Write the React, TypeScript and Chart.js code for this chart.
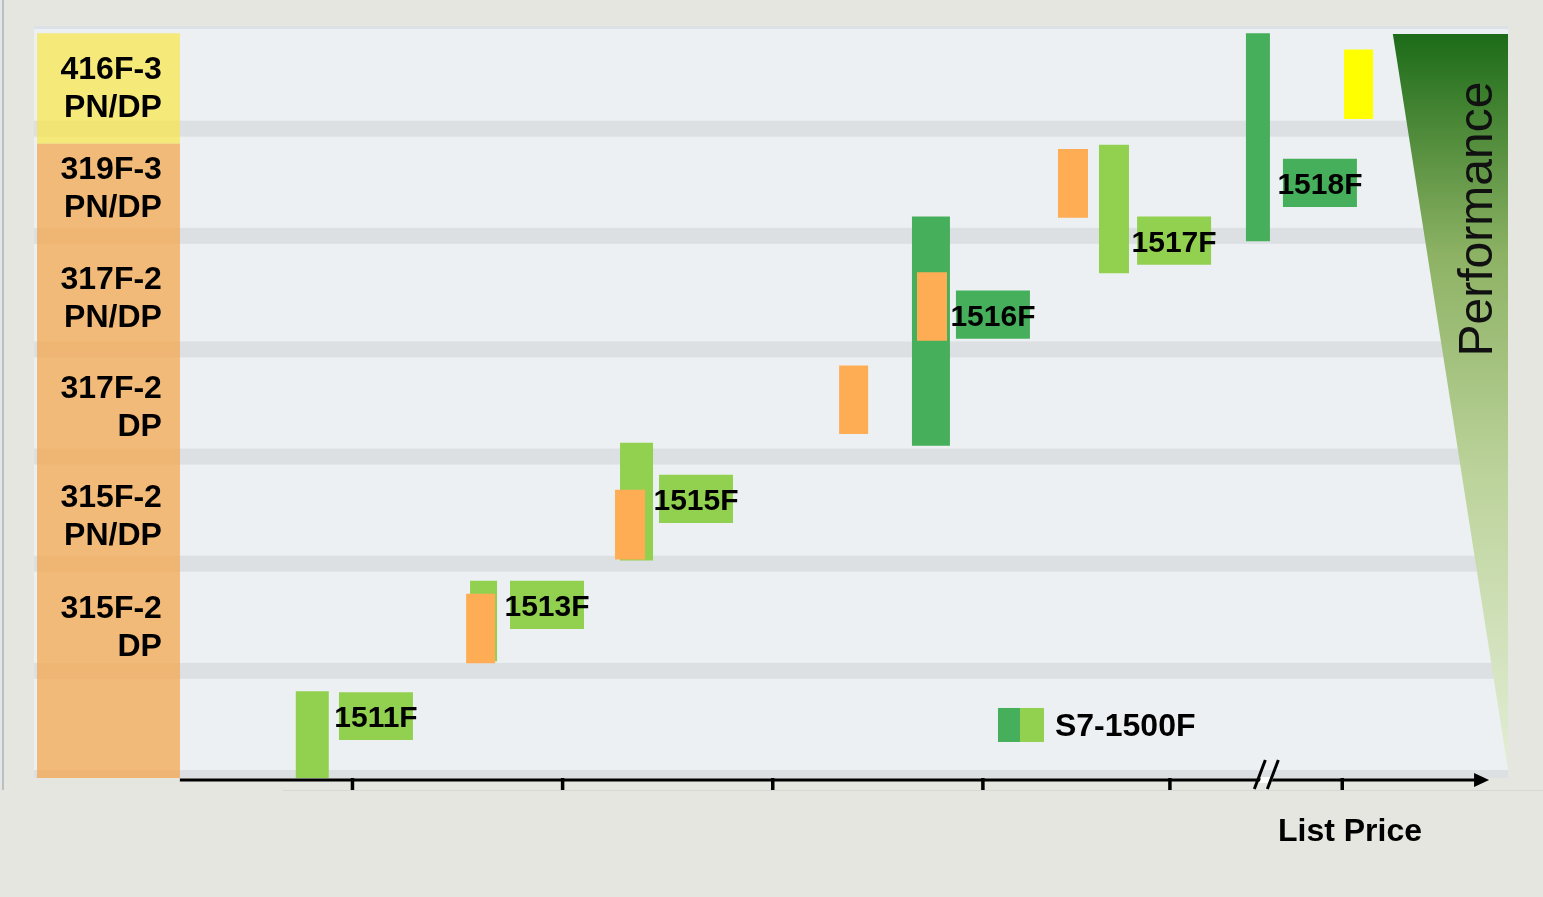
import React, { useEffect, useRef } from 'react';
import { Chart, registerables } from 'chart.js';

Chart.register(...registerables);

const W = 1543;
const H = 897;

// ---- data (x = list price index, y = performance index) ----
const rowBoundaries = [1, 2, 3, 4, 5.06, 6.06];
const rowLabels = [
  ['315F-2', 'DP'],
  ['315F-2', 'PN/DP'],
  ['317F-2', 'DP'],
  ['317F-2', 'PN/DP'],
  ['319F-3', 'PN/DP'],
  ['416F-3', 'PN/DP'],
];
const rowLabelY = [1.42, 2.45, 3.47, 4.49, 5.51, 6.45];
const columnPrice = -0.16;
const columnRight = 0.18;
const orangeColumn = [0, 5.92];
const yellowColumn = [5.92, 6.95];

const s7Names = ['1511F', '1513F', '1515F', '1516F', '1517F', '1518F'];
const s7Price = [0.81, 1.625, 2.353, 3.754, 4.625, 5.31];
const s7Perf = [[0, 0.81], [1.09, 1.84], [2.03, 3.13], [3.1, 5.24], [4.71, 5.91], [5.01, 6.95]];
const s7Width = [33, 27, 33, 38, 30, 24];
const s7Dark = [false, false, false, true, false, true];
const s7NamePrice = [1.113, 1.927, 2.636, 4.049, 4.911, 5.605];
const s7NamePerf = [[0.355, 0.8], [1.39, 1.84], [2.38, 2.83], [4.1, 4.55], [4.79, 5.24], [5.33, 5.78]];

const legacyPrice = [1.611, 2.322, 3.386, 3.759, 4.43, 5.789];
const legacyPerf = [[1.07, 1.72], [2.04, 2.69], [3.21, 3.85], [4.08, 4.72], [5.23, 5.87], [6.15, 6.8]];
const legacyWidth = [29, 30, 29, 30, 30, 29];
const legacyYellow = [false, false, false, false, false, true];

const priceTicks = [1, 2, 3, 4, 4.89, 5.71];
const priceBreak = 5.35;
const axisStart = 0.18;
const axisEnd = 6.41;

const legendLabel = 'S7-1500F';
const legendPrice = 4.073;
const legendPerf = 0.495;
const xTitle = 'List Price';
const xTitlePrice = 5.748;
const perfTitle = 'Performance';

// ---- colors ----
const LIGHT_GREEN = '#92D050';
const DARK_GREEN = '#46AF5B';
const ORANGE = '#FFAD55';
const YELLOW = '#FFFF00';
const BAND = '#DCE0E3';
const FONT = "'Liberation Sans', Arial, sans-serif";

const decor = {
  id: 'decor',
  beforeDraw(chart: any) {
    const { ctx, chartArea: a } = chart;
    ctx.save();
    ctx.fillStyle = '#E5E6E0';
    ctx.fillRect(0, 0, W, H);
    ctx.fillStyle = '#BABEC6';
    ctx.fillRect(2, 0, 2, a.bottom + 12);
    const pl = a.left - 3;
    const pt = a.top - 2;
    ctx.fillStyle = '#ECF0F3';
    ctx.fillRect(pl, pt, a.right - pl, a.bottom - pt);
    ctx.fillStyle = '#DCE1E7';
    ctx.fillRect(pl, pt, a.right - pl, 3);
    ctx.fillStyle = BAND;
    ctx.fillRect(pl, a.bottom - 8, a.right - pl, 8);
    ctx.fillStyle = '#D6D8D2';
    ctx.fillRect(283, a.bottom + 12, W - 283, 1);
    ctx.restore();
  },
  beforeDatasetsDraw(chart: any) {
    const { ctx, chartArea: a, scales } = chart;
    const x = scales.x;
    const y = scales.y;
    ctx.save();
    const pl = a.left - 3;
    ctx.fillStyle = BAND;
    rowBoundaries.forEach((b) => {
      const py = y.getPixelForValue(b);
      ctx.fillRect(pl, py - 8, a.right - pl, 16);
    });
    // performance wedge
    const tx = x.getPixelForValue(5.952);
    const ty = y.getPixelForValue(6.944);
    const by = y.getPixelForValue(0.075);
    const g = ctx.createLinearGradient(0, ty, 0, by);
    g.addColorStop(0, '#1C6B18');
    g.addColorStop(0.3, '#8DB264');
    g.addColorStop(0.6, '#BCD39B');
    g.addColorStop(1, '#E3EDD5');
    ctx.fillStyle = g;
    ctx.beginPath();
    ctx.moveTo(tx, ty);
    ctx.lineTo(a.right, ty);
    ctx.lineTo(a.right, by);
    ctx.closePath();
    ctx.fill();
    ctx.restore();
  },
  afterDatasetsDraw(chart: any) {
    const { ctx, chartArea: a, scales } = chart;
    const x = scales.x;
    const y = scales.y;
    ctx.save();
    ctx.fillStyle = '#000';
    ctx.textBaseline = 'middle';

    // row labels
    ctx.font = `bold 32px ${FONT}`;
    ctx.textAlign = 'right';
    const rx = x.getPixelForValue(columnRight) - 18;
    rowLabels.forEach((lines, i) => {
      const cy = y.getPixelForValue(rowLabelY[i]) + 2;
      ctx.fillText(lines[0], rx, cy - 19);
      ctx.fillText(lines[1], rx, cy + 19);
    });

    // CPU names
    ctx.font = `bold 30px ${FONT}`;
    ctx.textAlign = 'center';
    s7Names.forEach((n, i) => {
      const cx = x.getPixelForValue(s7NamePrice[i]);
      const cy = y.getPixelForValue((s7NamePerf[i][0] + s7NamePerf[i][1]) / 2);
      ctx.fillText(n, cx, cy + 3);
    });

    // legend
    const lx = x.getPixelForValue(legendPrice);
    const ly = y.getPixelForValue(legendPerf);
    ctx.fillStyle = DARK_GREEN;
    ctx.fillRect(lx, ly - 17, 22, 34);
    ctx.fillStyle = LIGHT_GREEN;
    ctx.fillRect(lx + 22, ly - 17, 24, 34);
    ctx.fillStyle = '#000';
    ctx.font = `bold 32px ${FONT}`;
    ctx.textAlign = 'left';
    ctx.fillText(legendLabel, lx + 57, ly + 2);

    // performance title
    ctx.save();
    ctx.translate(x.getPixelForValue(6.362), y.getPixelForValue(5.217));
    ctx.rotate(-Math.PI / 2);
    ctx.font = `48px ${FONT}`;
    ctx.textAlign = 'center';
    ctx.fillStyle = '#111';
    ctx.fillText(perfTitle, 0, 0);
    ctx.restore();

    // price axis
    const ay = a.bottom + 2;
    const x0 = x.getPixelForValue(axisStart);
    const x1 = x.getPixelForValue(axisEnd);
    ctx.fillStyle = '#000';
    ctx.fillRect(x0, ay - 1.5, x1 - 12 - x0, 3);
    ctx.beginPath();
    ctx.moveTo(x1, ay);
    ctx.lineTo(x1 - 15, ay - 7);
    ctx.lineTo(x1 - 15, ay + 7);
    ctx.closePath();
    ctx.fill();
    priceTicks.forEach((t) => {
      const px = x.getPixelForValue(t);
      ctx.fillRect(px - 1.5, ay - 2, 3.5, 12);
    });
    const bx = x.getPixelForValue(priceBreak);
    ctx.fillStyle = '#FFFFFF';
    ctx.beginPath();
    ctx.moveTo(bx - 7, ay + 3);
    ctx.lineTo(bx + 5, ay + 3);
    ctx.lineTo(bx + 7, ay - 3);
    ctx.lineTo(bx - 5, ay - 3);
    ctx.closePath();
    ctx.fill();
    ctx.strokeStyle = '#000';
    ctx.lineWidth = 3;
    ctx.beginPath();
    ctx.moveTo(bx - 12, ay + 9);
    ctx.lineTo(bx - 1, ay - 20);
    ctx.moveTo(bx + 1, ay + 9);
    ctx.lineTo(bx + 12, ay - 20);
    ctx.stroke();

    ctx.fillStyle = '#000';
    ctx.font = `bold 32px ${FONT}`;
    ctx.textAlign = 'center';
    ctx.fillText(xTitle, x.getPixelForValue(xTitlePrice), a.bottom + 54);
    ctx.restore();
  },
};

function buildDatasets() {
  const ds: any[] = [];
  ds.push({
    data: [{ x: columnPrice, y: orangeColumn }],
    backgroundColor: 'rgba(245,163,67,0.7)',
    barThickness: 143,
    order: 10,
  });
  ds.push({
    data: [{ x: columnPrice, y: yellowColumn }],
    backgroundColor: 'rgba(249,229,70,0.7)',
    barThickness: 143,
    order: 10,
  });
  s7Price.forEach((p, i) => {
    ds.push({
      data: [{ x: p, y: s7Perf[i] }],
      backgroundColor: s7Dark[i] ? DARK_GREEN : LIGHT_GREEN,
      barThickness: s7Width[i],
      order: 6,
    });
    ds.push({
      data: [{ x: s7NamePrice[i], y: s7NamePerf[i] }],
      backgroundColor: s7Dark[i] ? DARK_GREEN : LIGHT_GREEN,
      barThickness: 74,
      order: 5,
    });
  });
  legacyPrice.forEach((p, i) => {
    ds.push({
      data: [{ x: p, y: legacyPerf[i] }],
      backgroundColor: legacyYellow[i] ? YELLOW : ORANGE,
      barThickness: legacyWidth[i],
      order: 4,
    });
  });
  return ds;
}

export default function App() {
  const ref = useRef<HTMLCanvasElement>(null);
  useEffect(() => {
    document.body.style.margin = '0';
    const chart = new Chart(ref.current as HTMLCanvasElement, {
      type: 'bar',
      data: { datasets: buildDatasets() },
      options: {
        responsive: false,
        animation: false,
        devicePixelRatio: 1,
        events: [],
        layout: { padding: { left: 37, top: 28, right: 35, bottom: 119 } },
        scales: {
          x: { type: 'linear', min: -0.5, max: 6.5, offset: false, display: false },
          y: { type: 'linear', min: 0, max: 7, offset: false, display: false },
        },
        datasets: {
          bar: { grouped: false, borderWidth: 0, inflateAmount: 0 } as any,
        },
        plugins: {
          legend: { display: false },
          tooltip: { enabled: false },
        },
      } as any,
      plugins: [decor],
    });
    return () => chart.destroy();
  }, []);
  return (
    <div style={{ position: 'absolute', left: 0, top: 0, width: W, height: H }}>
      <canvas ref={ref} width={W} height={H} style={{ display: 'block', width: W, height: H }} />
    </div>
  );
}
